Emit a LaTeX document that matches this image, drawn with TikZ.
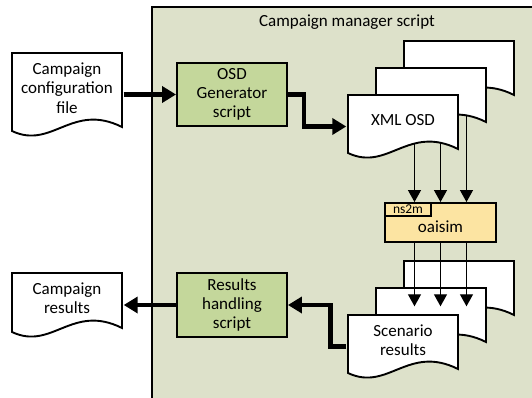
\documentclass[tikz,border=0pt]{standalone}
\usepackage{fontspec}
\setmainfont{Carlito}
\usetikzlibrary{arrows.meta}
\definecolor{mgrbg}{HTML}{DDE1CA}
\definecolor{scriptgreen}{HTML}{C4D79B}
\definecolor{simyellow}{HTML}{FCE4A2}
\pgfdeclarelayer{back}
\pgfsetlayers{back,main}
\tikzset{
  every node/.style={font=\fontsize{17pt}{19.2pt}\selectfont},
  manager/.style={draw,line width=1.5pt,fill=mgrbg},
  script/.style={draw,line width=1.9pt,fill=scriptgreen,minimum width=110pt,
    minimum height=63pt,inner sep=0pt,align=center},
  sim/.style={draw,line width=1.9pt,fill=simyellow,minimum width=111pt,
    minimum height=39pt,inner sep=0pt,text height=20pt},
  tab/.style={draw,line width=1.9pt,anchor=north west,minimum width=46pt,
    minimum height=13pt,inner sep=0pt,font=\fontsize{13.5pt}{14pt}\selectfont},
  paper line/.style={draw,fill=white,line width=1.9pt},
  paper/.style={minimum width=113pt,minimum height=#1,inner sep=0pt,
    align=center,text depth=13pt,
    path picture={
      \filldraw[paper line]
        ([shift={(1.5pt,-1.5pt)}]path picture bounding box.north west)
        -- ([shift={(-1.5pt,-1.5pt)}]path picture bounding box.north east)
        -- ([shift={(-1.5pt,10.5pt)}]path picture bounding box.south east)
        .. controls ([shift={(61.5pt,35.5pt)}]path picture bounding box.south west)
        and ([shift={(41.5pt,-12.5pt)}]path picture bounding box.south west)
        .. ([shift={(1.5pt,6.5pt)}]path picture bounding box.south west)
        -- cycle;
    }},
  flow/.style={line width=1.2pt,-{Triangle[length=12pt,width=13pt]}},
  bigflow/.style={line width=4.5pt,-{Triangle[length=14pt,width=16pt]}},
}

\begin{document}
\begin{tikzpicture}[x=1pt,y=1pt]
\useasboundingbox (0,0) rectangle (532,-398);
\begin{pgfonlayer}{back}
  \draw[manager] (152,-7) rectangle (560,-420);
\end{pgfonlayer}
\node (mgrtitle) at (347,-22) {Campaign manager script};

\node[paper=86pt] (cfg) at (67,-94.5) {Campaign\\configuration\\file};
\node[script] (osdgen) at (232,-94.5) {OSD\\Generator\\script};

% stacked OSD files
\foreach \k/\dx/\dy in {C/56/54, B/28/27}
  \node[paper=66pt] (xml\k) at (403+\dx,-126.5+\dy) {};
\node[paper=66pt] (xmlA) at (403,-126.5) {XML OSD};

\node[sim] (oaisim) at (440.5,-222.5) {oaisim};
\node[tab] (ns2m) at (oaisim.north west) {ns2m};

% stacked results
\foreach \k/\dx/\dy in {C/56/54, B/28/27}
  \node[paper=66pt] (scn\k) at (403+\dx,-346.5+\dy) {};
\node[paper=66pt] (scnA) at (403,-346.5) {Scenario\\results};

\node[script,minimum height=64pt] (reshandle) at (232,-305) {Results\\handling\\script};
\node[paper=67pt] (campres) at (67,-305) {Campaign\\results};

\draw[bigflow] (cfg) -- (osdgen);
\draw[bigflow] (osdgen.east) -- ++(16,0) |- (xmlA.west);
\draw[bigflow] (scnA.west) -- ++(-16,0) |- (reshandle.east);
\draw[bigflow] (reshandle) -- (campres);

\begin{pgfonlayer}{back}
\foreach \dx in {-26,0,26}
  \draw[flow] ([xshift=\dx pt]oaisim.north |- xmlA.north) -- ([xshift=\dx pt]oaisim.north);
\end{pgfonlayer}
\foreach \dx in {-26,0,26}
  \draw[flow] ([xshift=\dx pt]oaisim.south) -- ([xshift=\dx pt,yshift=7pt]oaisim.south |- scnA.north);
\end{tikzpicture}
\end{document}
